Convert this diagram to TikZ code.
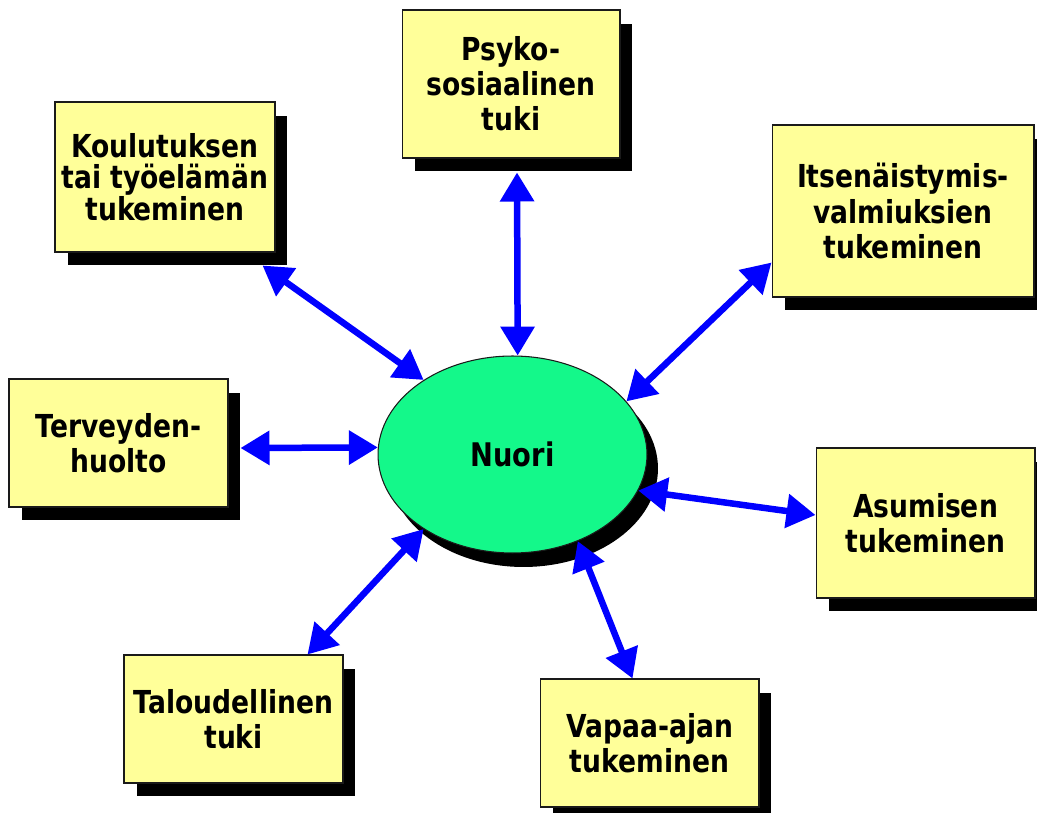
\documentclass[tikz,border=0pt]{standalone}
\usepackage{fontspec}
\setmainfont{DejaVu Sans}[FakeStretch=0.84]
\usetikzlibrary{positioning, arrows.meta, shapes.geometric, shadows, calc}
\definecolor{nuoriInk}{HTML}{1A1A1A}
\definecolor{nuoriBlue}{HTML}{0000FF}
\definecolor{nuoriYellow}{HTML}{FFFF99}
\definecolor{nuoriGreen}{HTML}{14F88A}
\tikzset{
  tukibox/.style={draw=nuoriInk, line width=0.6pt, fill=nuoriYellow, align=center,
    inner sep=2pt, font=\fontsize{18}{20}\selectfont\bfseries,
    drop shadow={shadow xshift=0.25cm, shadow yshift=-0.27cm, opacity=1, fill=black}},
  tukilink/.style={draw=nuoriBlue, line width=0.13cm,
    {Triangle[length=0.58cm, width=0.66cm]}-{Triangle[length=0.58cm, width=0.66cm]}}
}

\begin{document}
\begin{tikzpicture}[x=0.02cm, y=-0.02cm]
    \useasboundingbox (0,0) rectangle (1037,813);
    % the young person in the middle
    \node[ellipse, draw=nuoriInk, line width=0.6pt, fill=nuoriGreen,
          minimum width=5.38cm, minimum height=3.94cm,
          font=\fontsize{18.5}{20}\selectfont\bfseries,
          drop shadow={shadow xshift=0.22cm, shadow yshift=-0.28cm, opacity=1, fill=black}]
          (nuori) at (512.5,454.5) {Nuori};
    % forms of support around it
    \node[tukibox, minimum width=4.36cm, minimum height=2.96cm] (psyko) at (511,84) {Psyko-\\sosiaalinen\\tuki};
    \node[tukibox, minimum width=4.4cm, minimum height=3.0cm, font=\fontsize{18}{18}\selectfont\bfseries]
          (koulu) at (165,177) {Koulutuksen\\tai työelämän\\tukeminen};
    \node[tukibox, minimum width=5.24cm, minimum height=3.44cm] (itsen) at (903,211) {Itsenäistymis-\\valmiuksien\\tukeminen};
    \node[tukibox, minimum width=4.38cm, minimum height=2.56cm] (terv) at (118.5,443) {Terveyden-\\huolto};
    \node[tukibox, minimum width=4.38cm, minimum height=3.0cm] (asum) at (925.5,523) {Asumisen\\tukeminen};
    \node[tukibox, minimum width=4.38cm, minimum height=2.56cm] (talou) at (233.5,719) {Taloudellinen\\tuki};
    \node[tukibox, minimum width=4.38cm, minimum height=2.56cm] (vapaa) at (649.5,743) {Vapaa-ajan\\tukeminen};
    % two-way links
    \draw[tukilink] (nuori.87) -- ($(psyko.south)+(6,14)$);
    \draw[tukilink] (nuori.140) -- ($(koulu.south east)+(-13,13)$);
    \draw[tukilink] (nuori.25) -- ($(itsen.south west)+(0,-35)$);
    \draw[tukilink] (nuori.177) -- ($(terv.east)+(12,5)$);
    \draw[tukilink] (nuori.-16) -- ($(asum.west)+(0,-8)$);
    \draw[tukilink] (nuori.-53) -- ($(vapaa.north)+(-17,0)$);
    \draw[tukilink] (nuori.-140) -- ($(talou.north east)+(-36,0)$);
\end{tikzpicture}
\end{document}
